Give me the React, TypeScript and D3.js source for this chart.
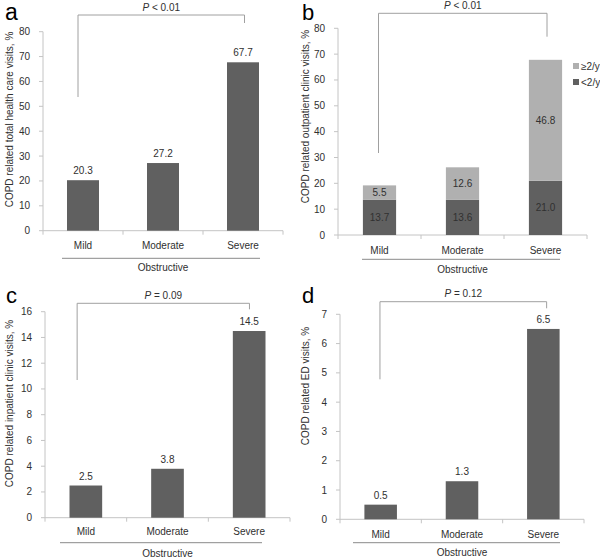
import React from "react";
import * as d3 from "d3";

const categories = ["Mild", "Moderate", "Severe"];
const groupLabel = "Obstructive";

const totalVisits = [20.3, 27.2, 67.7];
const outpatientLow = [13.7, 13.6, 21.0];
const outpatientHigh = [5.5, 12.6, 46.8];
const inpatientVisits = [2.5, 3.8, 14.5];
const edVisits = [0.5, 1.3, 6.5];

const yTicksA = [0, 10, 20, 30, 40, 50, 60, 70, 80];
const yTicksB = [0, 10, 20, 30, 40, 50, 60, 70, 80];
const yTicksC = [0, 2, 4, 6, 8, 10, 12, 14, 16];
const yTicksD = [0, 1, 2, 3, 4, 5, 6, 7];

const titles = [
  "COPD related total health care visits, %",
  "COPD related outpatient clinic visits, %",
  "COPD related inpatient clinic visits, %",
  "COPD related ED visits, %",
];
const pLabels = [" < 0.01", " < 0.01", " = 0.09", " = 0.12"];
const panelLetters = ["a", "b", "c", "d"];
const legendLabels = ["\u22652/y", "<2/y"];

const DARK = "#606060";
const LIGHT = "#b0b0b0";
const AXIS = "#c4c4c4";
const FONT = "'Liberation Sans', Arial, sans-serif";

type Layout = {
  x0: number; x1: number; yTop: number; yBot: number;
  letterX: number; letterY: number; letterSize: number;
  titleX: number; titleY: number;
  brTop: number; brLeftBot: number; brRightBot: number; brLeftDx: number; brRightDx: number;
  catDy: number; lineDy: number; groupDy: number; ulL: number; ulR: number;
};

const layouts: Layout[] = [
  { x0: 43, x1: 283, yTop: 31.7, yBot: 230.7, letterX: 5, letterY: 20, letterSize: 23, titleX: 6, titleY: 119.5,
    brTop: 15, brLeftBot: 97, brRightBot: 23, brLeftDx: -5, brRightDx: 1.5,
    catDy: 14.5, lineDy: 27.6, groupDy: 37, ulL: 19, ulR: 23 },
  { x0: 338, x1: 587, yTop: 28.3, yBot: 235, letterX: 302, letterY: 20, letterSize: 22, titleX: 302, titleY: 116.5,
    brTop: 13.3, brLeftBot: 153, brRightBot: 36.7, brLeftDx: -1, brRightDx: 1.5,
    catDy: 15, lineDy: 24.3, groupDy: 34.3, ulL: 24, ulR: 27 },
  { x0: 45, x1: 290, yTop: 311.7, yBot: 517.7, letterX: 6, letterY: 303, letterSize: 22, titleX: 6, titleY: 403.5,
    brTop: 303.3, brLeftBot: 380, brRightBot: 309.3, brLeftDx: -8.7, brRightDx: 0.3,
    catDy: 14, lineDy: 25, groupDy: 35.6, ulL: 15, ulR: 28 },
  { x0: 340, x1: 584, yTop: 314.3, yBot: 519.3, letterX: 302, letterY: 303, letterSize: 22, titleX: 302, titleY: 386,
    brTop: 301.7, brLeftBot: 379.3, brRightBot: 308.3, brLeftDx: -0.7, brRightDx: 3.3,
    catDy: 15, lineDy: 23.4, groupDy: 33, ulL: 13, ulR: 24 },
];

const tickSets = [yTicksA, yTicksB, yTicksC, yTicksD];

function Panel({ idx }: { idx: number }) {
  const L = layouts[idx];
  const ticks = tickSets[idx];
  const maxV = ticks[ticks.length - 1];
  const y = d3.scaleLinear().domain([0, maxV]).range([L.yBot, L.yTop]);
  const x = d3.scaleBand<string>().domain(categories).range([L.x0, L.x1]).paddingInner(0.6).paddingOuter(0.3);
  const step = (L.x1 - L.x0) / categories.length;
  const cx = (c: string) => (x(c) as number) + x.bandwidth() / 2;
  const bw = x.bandwidth();

  const stacked = idx === 1;
  const series = [totalVisits, null, inpatientVisits, edVisits][idx];

  const bars: React.ReactNode[] = [];
  if (stacked) {
    const rows = categories.map((c, i) => ({ cat: c, low: outpatientLow[i], high: outpatientHigh[i] }));
    const stack = d3.stack<any>().keys(["low", "high"])(rows);
    stack.forEach((s, si) => {
      s.forEach((d, i) => {
        const c = categories[i];
        const yt = y(d[1]);
        const yb = y(d[0]);
        bars.push(
          <rect key={`s${si}-${i}`} x={x(c)} y={yt} width={bw} height={yb - yt} fill={si === 0 ? DARK : LIGHT} />
        );
        const v = si === 0 ? rows[i].low : rows[i].high;
        bars.push(
          <text key={`st${si}-${i}`} x={cx(c)} y={(yt + yb) / 2} dy="0.35em" textAnchor="middle"
            fontSize={10} fill="#303030">{v.toFixed(1)}</text>
        );
      });
    });
  } else if (series) {
    categories.forEach((c, i) => {
      const v = series[i];
      bars.push(<rect key={`b${i}`} x={x(c)} y={y(v)} width={bw} height={L.yBot - y(v)} fill={DARK} />);
      bars.push(
        <text key={`bt${i}`} x={cx(c)} y={y(v) - 6} textAnchor="middle" fontSize={10} fill="#303030">{v.toFixed(1)}</text>
      );
    });
  }

  const bl = cx(categories[0]) + L.brLeftDx;
  const br = cx(categories[2]) + L.brRightDx;

  return (
    <g fontFamily={FONT}>
      <text x={L.letterX} y={L.letterY} fontSize={L.letterSize} fill="#000">{panelLetters[idx]}</text>
      <text transform={`translate(${L.titleX},${L.titleY}) rotate(-90)`} textAnchor="middle" dy="0.7em"
        fontSize={10} fill="#303030">{titles[idx]}</text>
      <line x1={L.x0} x2={L.x0} y1={L.yTop} y2={L.yBot} stroke={AXIS} />
      {ticks.map((t) => (
        <g key={t}>
          <line x1={L.x0 - 4} x2={L.x0} y1={y(t)} y2={y(t)} stroke={AXIS} />
          <text x={L.x0 - 13} y={y(t)} dy="0.35em" textAnchor="end" fontSize={10} fill="#303030">{t}</text>
        </g>
      ))}
      <line x1={L.x0} x2={L.x1} y1={L.yBot} y2={L.yBot} stroke={AXIS} />
      {d3.range(categories.length + 1).map((i) => (
        <line key={i} x1={L.x0 + i * step} x2={L.x0 + i * step} y1={L.yBot} y2={L.yBot + 4} stroke={AXIS} />
      ))}
      {bars}
      {categories.map((c) => (
        <text key={c} x={cx(c)} y={L.yBot + L.catDy} dy="0.35em" textAnchor="middle" fontSize={10} fill="#303030">{c}</text>
      ))}
      <line x1={L.x0 + L.ulL} x2={L.x1 - L.ulR} y1={L.yBot + L.lineDy} y2={L.yBot + L.lineDy} stroke="#8a8a8a" />
      <text x={(L.x0 + L.x1) / 2} y={L.yBot + L.groupDy} dy="0.35em" textAnchor="middle" fontSize={10} fill="#303030">{groupLabel}</text>
      <path d={`M${bl},${L.brLeftBot}V${L.brTop}H${br}V${L.brRightBot}`} fill="none" stroke="#a0a0a0" />
      <text x={(bl + br) / 2} y={L.brTop - 4.5} textAnchor="middle" fontSize={10} fill="#303030">
        <tspan fontStyle="italic">P</tspan>{pLabels[idx]}
      </text>
      {stacked && (
        <g>
          {legendLabels.map((lab, i) => (
            <g key={lab}>
              <rect x={573} y={63 + i * 16} width={6} height={6} fill={i === 0 ? LIGHT : DARK} />
              <text x={581} y={66 + i * 16} dy="0.35em" fontSize={10} fill="#303030">{lab}</text>
            </g>
          ))}
        </g>
      )}
    </g>
  );
}

export default function App() {
  return (
    <svg width={600} height={558} style={{ position: "absolute", left: 0, top: 0, background: "#fff" }}>
      <rect width={600} height={558} fill="#fff" />
      {[0, 1, 2, 3].map((i) => <Panel key={i} idx={i} />)}
    </svg>
  );
}
